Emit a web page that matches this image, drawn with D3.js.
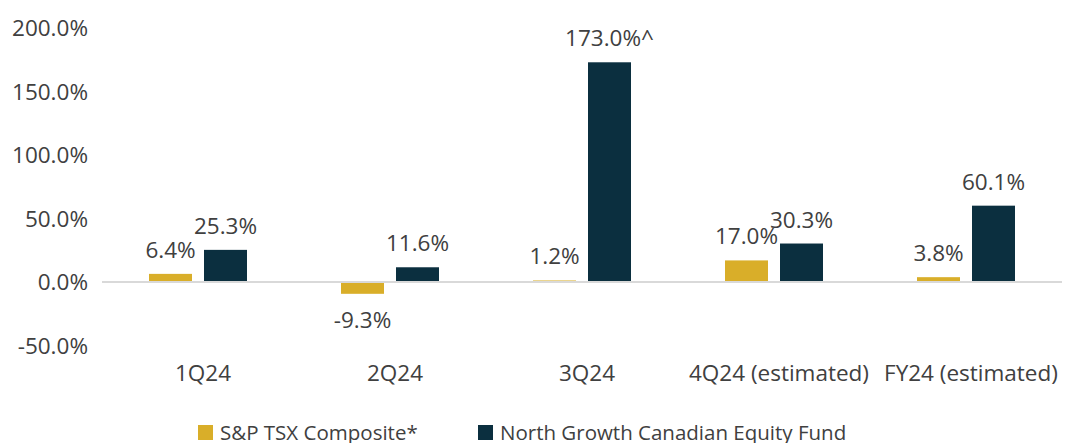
<!DOCTYPE html>
<html>
<head>
<meta charset="utf-8">
<script src="https://cdn.jsdelivr.net/npm/d3@7"></script>
<style>
  body { margin: 0; background: #fff; }
  svg text { font-family: "Open Sans", sans-serif; fill: #404040; }
</style>
</head>
<body>
<div id="chart"></div>
<script>
const categories = ['1Q24', '2Q24', '3Q24', '4Q24 (estimated)', 'FY24 (estimated)'];
const seriesNames = ['S&P TSX Composite*', 'North Growth Canadian Equity Fund'];
const tsxValues = [6.4, -9.3, 1.2, 17.0, 3.8];
const fundValues = [25.3, 11.6, 173.0, 30.3, 60.1];
const fundLabelSuffix = ['', '', '^', '', ''];
const yTicks = [-50, 0, 50, 100, 150, 200];
const colors = ['#D9AE29', '#0B2F3F'];

const width = 1067, height = 443;

const svg = d3.select('#chart')
  .append('svg')
  .attr('width', width)
  .attr('height', height);

const x = d3.scaleBand()
  .domain(categories)
  .range([102, 1062]);

const y = d3.scaleLinear()
  .domain([-50, 200])
  .range([345.5, 28]);

const fmt = d => d.toFixed(1) + '%';

// y axis labels
svg.append('g')
  .selectAll('text')
  .data(yTicks)
  .enter()
  .append('text')
  .attr('x', 88)
  .attr('y', d => y(d) + 8)
  .attr('text-anchor', 'end')
  .attr('font-size', '22.5px')
  .text(fmt);

// zero line
svg.append('line')
  .attr('x1', 102)
  .attr('x2', 1062)
  .attr('y1', y(0))
  .attr('y2', y(0))
  .attr('stroke', '#D9D9D9')
  .attr('stroke-width', 2);

const barW = 43;
const series = [tsxValues, fundValues];
const offsets = [-49, 6];

series.forEach((vals, si) => {
  const g = svg.append('g');
  g.selectAll('rect')
    .data(vals)
    .enter()
    .append('rect')
    .attr('x', (d, i) => x(categories[i]) + x.bandwidth() / 2 + offsets[si])
    .attr('y', d => d >= 0 ? y(d) : y(0) + 1)
    .attr('width', barW)
    .attr('height', d => Math.max(0.5, Math.abs(y(d) - y(0)) - 1))
    .attr('fill', colors[si]);

  g.selectAll('text')
    .data(vals)
    .enter()
    .append('text')
    .attr('x', (d, i) => x(categories[i]) + x.bandwidth() / 2 + offsets[si] + barW / 2)
    .attr('y', d => d >= 0 ? y(d) - 16 : y(d) + 34)
    .attr('text-anchor', 'middle')
    .attr('font-size', '22.5px')
    .text((d, i) => fmt(d) + (si === 1 ? fundLabelSuffix[i] : ''));
});

// category labels
svg.append('g')
  .selectAll('text')
  .data(categories)
  .enter()
  .append('text')
  .attr('x', d => x(d) + x.bandwidth() / 2 + 5)
  .attr('y', 381)
  .attr('text-anchor', 'middle')
  .attr('font-size', '22.5px')
  .text(d => d);

// legend
const legendX = [198, 478];
const legend = svg.append('g')
  .selectAll('g')
  .data(seriesNames)
  .enter()
  .append('g')
  .attr('transform', (d, i) => `translate(${legendX[i]}, 425)`);

legend.append('rect')
  .attr('width', 15)
  .attr('height', 15)
  .attr('fill', (d, i) => colors[i]);

legend.append('text')
  .attr('x', 22)
  .attr('y', 15)
  .attr('font-size', '20.5px')
  .text(d => d);
</script>
</body>
</html>
